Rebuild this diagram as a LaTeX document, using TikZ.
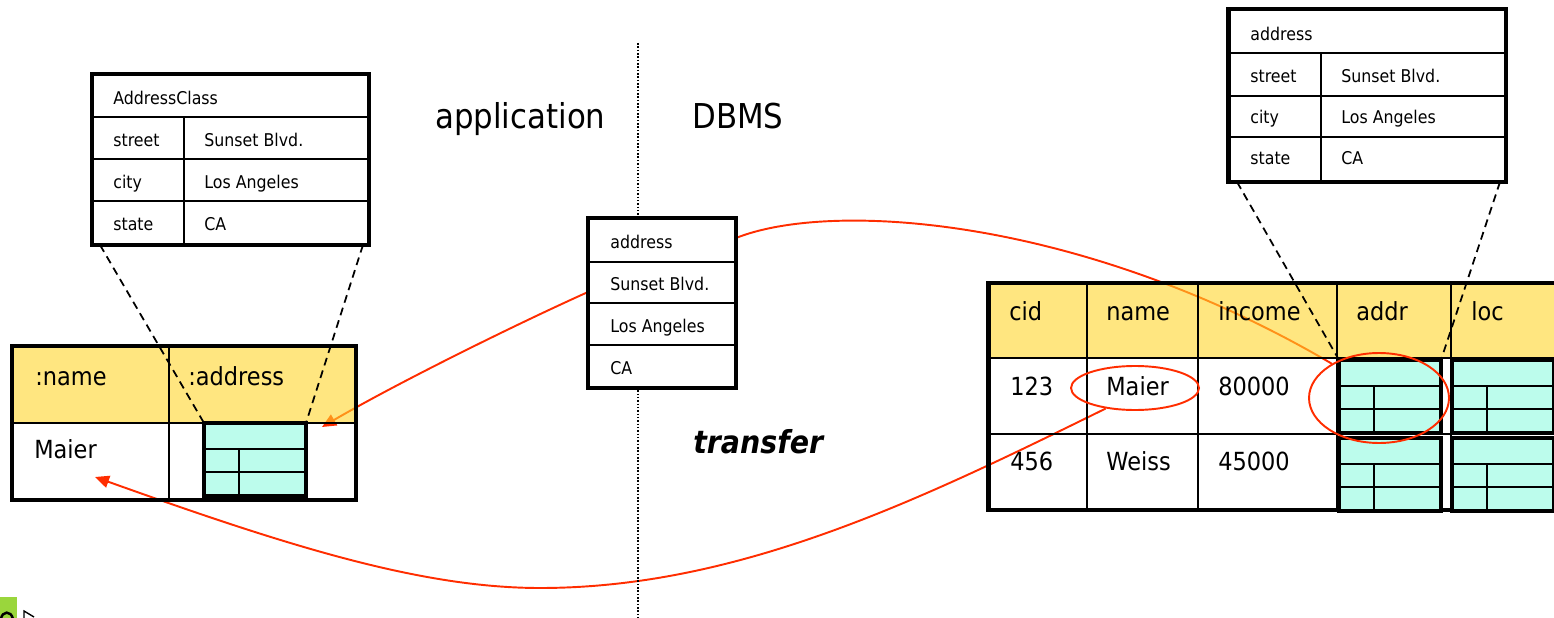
\documentclass[tikz,border=0pt]{standalone}
\usepackage{fontspec}
\setmainfont{DejaVu Sans}[FakeStretch=0.9]
\usetikzlibrary{arrows.meta,positioning,shapes.geometric,calc,backgrounds}
\definecolor{hdryellow}{RGB}{255,213,43}
\definecolor{cellcyan}{RGB}{188,252,236}
\definecolor{linkred}{RGB}{255,45,0}
\definecolor{navgreen}{RGB}{154,214,60}
\tikzset{
  % outer border of a table
  frame/.style={draw, line width=2.8pt, inner sep=0, outer sep=0},
  % inner cell lines
  grid/.style={line width=1.1pt},
  % header row (seen through by the links)
  hdr/.style={fill=hdryellow, fill opacity=0.6},
  % cell texts
  smalltxt/.style={anchor=base west, inner sep=0, font=\fontsize{10}{12}\selectfont},
  bigtxt/.style={anchor=base west, inner sep=0, font=\fontsize{14.2}{17}\selectfont},
  % nested address value in a cell
  addricon/.style={
    draw, line width=2.8pt, fill=cellcyan, anchor=north west,
    minimum width=2.04cm, minimum height=1.46cm, inner sep=0, outer sep=0,
    path picture={
      \draw[line width=1.1pt]
        ([yshift=-0.52cm]path picture bounding box.north west) -- ([yshift=-0.52cm]path picture bounding box.north east)
        ([yshift=-0.98cm]path picture bounding box.north west) -- ([yshift=-0.98cm]path picture bounding box.north east)
        ([xshift=0.7cm,yshift=-0.52cm]path picture bounding box.north west) -- ([xshift=0.7cm]path picture bounding box.south west);
    }
  },
  % zoom lines
  zoomline/.style={dash pattern=on 4.5pt off 3pt, line width=1pt},
  % red links
  link/.style={draw=linkred, line width=1.1pt},
  linkarr/.style={link, -{Triangle[length=8pt,width=7pt]}, fill=none},
  ring/.style={ellipse, draw=linkred, line width=1.1pt, inner sep=0},
}

\begin{document}
\begin{tikzpicture}[x=0.02cm, y=-0.02cm]
\useasboundingbox (0,0) rectangle (1554,618);
\clip (0,0) rectangle (1554,618);

% application | DBMS
\draw[densely dotted, line width=0.9pt] (638,43) -- (638,625);
\node[anchor=base west, inner sep=0, font=\fontsize{19.5}{23}\selectfont] (app) at (435,129) {application};
\node[anchor=base west, inner sep=0, font=\fontsize{19.5}{23}\selectfont] (dbms) at (692,129) {DBMS};
\node[anchor=base west, inner sep=0, font=\fontsize{18}{21}\selectfont\bfseries\itshape] (xfer) at (693,453) {transfer};

% class, application side
\node[frame, minimum width=5.54cm, minimum height=3.42cm] (clsA) at (230.5,159.5) {};
\draw[grid] (92,117) -- (369,117) (92,159) -- (369,159) (92,201) -- (369,201) (184,117) -- (184,245);
\node[smalltxt] (clsA-h) at (113,105) {AddressClass};
\foreach \lab/\val [count=\i] in {street/Sunset Blvd., city/Los Angeles, state/CA} {
  \node[smalltxt] (clsA-l\i) at (113,105+42*\i) {\lab};
  \node[smalltxt] (clsA-v\i) at (204,105+42*\i) {\val};
}

% object, application side
\fill[hdr] (12,346) rectangle (356,423);
\node[frame, minimum width=6.88cm, minimum height=3.08cm] (objL) at (184,423) {};
\draw[grid] (12,423) -- (356,423) (169,346) -- (169,500);
\node[bigtxt] (objL-h1) at (35,385) {:name};
\node[bigtxt] (objL-h2) at (188,385) {:address};
\node[bigtxt] (objL-v1) at (34,458) {Maier};
\node[addricon] (icL) at (204,423) {};

% transferred value
\node[frame, fill=white, minimum width=2.96cm, minimum height=3.4cm] (boxM) at (662,303) {};
\draw[grid] (588,262) -- (736,262) (588,303) -- (736,303) (588,345) -- (736,345);
\foreach \val [count=\i] in {address,Sunset Blvd.,Los Angeles,CA}
  \node[smalltxt] (boxM-\i) at (610,206+42*\i) {\val};

% type, DBMS side
\node[frame, minimum width=5.56cm, minimum height=3.46cm] (clsR) at (1367,95.5) {};
\draw[grid] (1228,53) -- (1506,53) (1228,96) -- (1506,96) (1228,137) -- (1506,137) (1321,53) -- (1321,182);
\node[smalltxt] (clsR-h) at (1250,41) {address};
\foreach \lab/\val [count=\i] in {street/Sunset Blvd., city/Los Angeles, state/CA} {
  \node[smalltxt] (clsR-l\i) at (1250,41+41.3*\i) {\lab};
  \node[smalltxt] (clsR-v\i) at (1341,41+41.3*\i) {\val};
}

% relation, DBMS side
\fill[hdr] (988,283) rectangle (1580,358);
\node[frame, minimum width=11.84cm, minimum height=4.54cm] (relD) at (1284,396.5) {};
\draw[grid] (988,358) -- (1580,358) (988,434) -- (1580,434);
\foreach \x in {1087,1198,1337,1451}
  \draw[grid] (\x,283) -- (\x,510);
\foreach \lab/\x in {cid/1009,name/1106,income/1218,addr/1356,loc/1471}
  \node[bigtxt] (relD-\lab) at (\x,320) {\lab};
\foreach \a/\b/\c [count=\i] in {123/Maier/80000,456/Weiss/45000} {
  \node[bigtxt] (relD-a\i) at (1010,320+75*\i) {\a};
  \node[bigtxt] (relD-b\i) at (1106,320+75*\i) {\b};
  \node[bigtxt] (relD-c\i) at (1218,320+75*\i) {\c};
}
\foreach \y [count=\i] in {360,438} {
  \node[addricon] (icA\i) at (1339,\y) {};
  \node[addricon] (icC\i) at (1452,\y) {};
}

% zoom lines
\draw[zoomline] ([xshift=0.16cm]clsA.south west) -- (icL.north west);
\draw[zoomline] ([xshift=-0.12cm]clsA.south east) -- (icL.north east);
\draw[zoomline] ([xshift=0.18cm]clsR.south west) -- (icA1.north west);
\draw[zoomline] ([xshift=-0.12cm]clsR.south east) -- (icA1.north east);

% marked values
\node[ring, minimum width=2.56cm, minimum height=0.88cm] (ovM) at (1135,388) {};
\node[ring, minimum width=2.8cm, minimum height=1.8cm] (ovA) at (1379,398) {};

% links
\coordinate (tipA) at (322,427);
\coordinate (tipB) at (95,477);
\coordinate (lowB) at (540,588);
\begin{pgfonlayer}{background}
  \draw[linkarr] ([yshift=0.22cm]boxM.west) .. controls +(-80,36) and +(70,-41) .. (tipA);
  \draw[link] ([yshift=1.3cm]boxM.east) .. controls +(95,-38) and +(-250,-147) .. (ovA.144);
  \draw[linkarr] (ovM.215) .. controls +(-183,90) and +(200,0) .. (lowB)
    .. controls +(-120,0) and +(190,68) .. (tipB);
\end{pgfonlayer}

% slide buttons
\fill[navgreen] (0,597) rectangle (17,618);
\draw[line width=1.4pt] (1,619) .. controls (2,611) and (11,610) .. (13,619);
\draw[line width=0.8pt] (24,620) -- (24,611) -- (34,617);
\end{tikzpicture}
\end{document}
